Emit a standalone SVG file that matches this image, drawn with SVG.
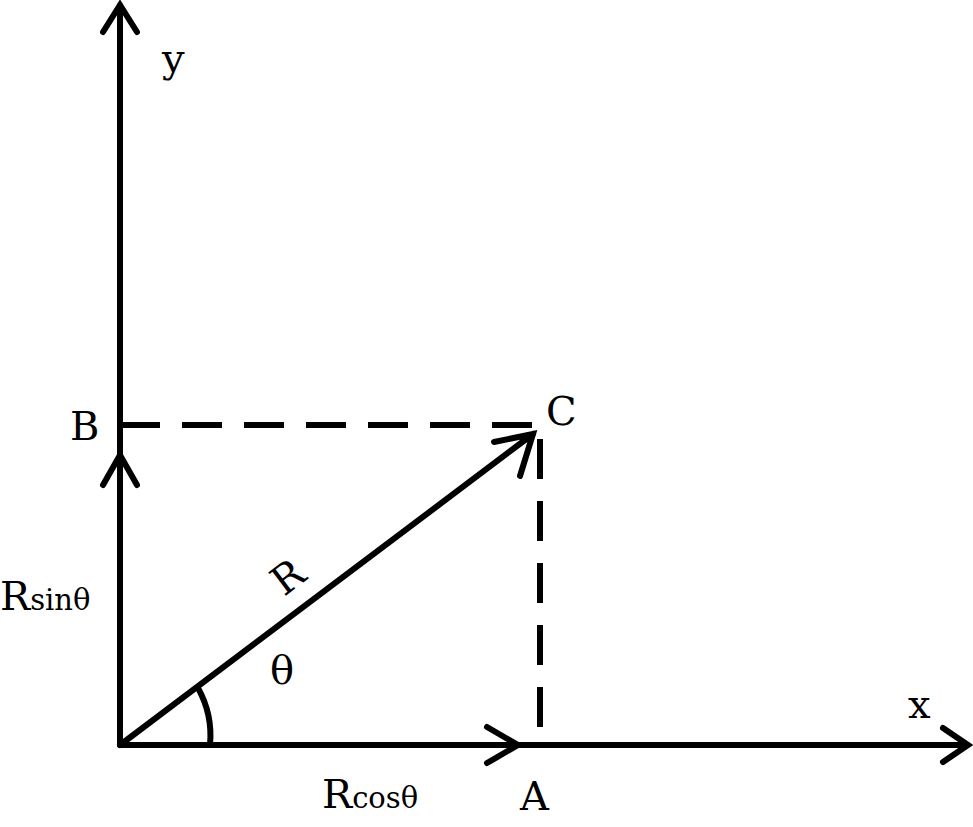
<svg xmlns="http://www.w3.org/2000/svg" width="973" height="827" viewBox="0 0 973 827">
<style>
.l{stroke:#000;stroke-width:6;fill:none;stroke-linecap:round}
.d{stroke:#000;stroke-width:6;fill:none;stroke-dasharray:40,22}
text{font-family:"DejaVu Serif",serif;font-size:40px;fill:#000}
</style>
<rect width="973" height="827" fill="#fff"/>
<g id="connectors">
<path class="l" d="M120,745V5M103,32L120,5L137,32"/>
<path class="l" d="M120,745H968M943,728L968,745L943,762"/>
<path class="l" d="M103,485L120,455L137,485"/>
<path class="l" d="M487,727L518,745L487,763"/>
<path class="d" d="M120,425H540V745"/>
<path class="l" d="M120,745L533,434M494,442L533,434L520,476"/>
<path class="l" d="M198,688A98,98 0 0 1 210,745"/>
</g>
<g id="labels">
<text x="162" y="72">y</text>
<text x="70" y="440">B</text>
<text x="546" y="425">C</text>
<text transform="translate(284,597) rotate(-37)">R</text>
<text x="270" y="684">θ</text>
<text x="0" y="610">R<tspan font-size="29">sinθ</tspan></text>
<text x="908" y="718">x</text>
<text x="322" y="808">R<tspan font-size="29">cosθ</tspan></text>
<text x="520" y="810">A</text>
</g>
</svg>
